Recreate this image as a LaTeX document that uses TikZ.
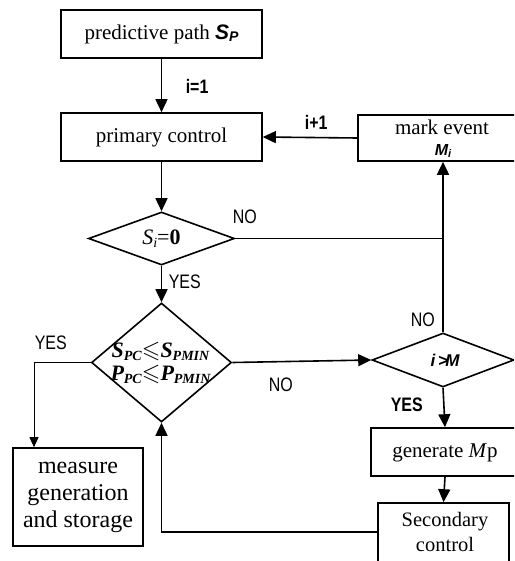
\documentclass[tikz,border=0pt]{standalone}
\usepackage{amsmath}
\usepackage{amssymb}
\usepackage{fontspec}
\setmainfont{Liberation Serif}
\newfontfamily\lblfont[FakeStretch=0.82]{Liberation Sans}
\newfontfamily\bisans{Liberation Sans}
\usetikzlibrary{shapes.geometric,arrows.meta}
\begin{document}
\begin{tikzpicture}[x=1pt,y=-1pt,
  line width=1.6pt,
  arr/.style={-{Triangle[length=13pt,width=12pt]}},
  boxn/.style={draw,rectangle,inner sep=0pt,font=\fontsize{21}{25}\selectfont,align=center},
  dia/.style={draw,diamond,inner sep=0pt},
  lbl/.style={font=\lblfont\fontsize{19.5}{20}\selectfont,inner sep=0pt},
  lblb/.style={font=\lblfont\bfseries\fontsize{19.5}{20}\selectfont,inner sep=0pt}]
\useasboundingbox (0,0) rectangle (514,561);
\clip (0,0) rectangle (514,561);
% boxes
\node[boxn,minimum width=201pt,minimum height=48pt] (p1) at (161.5,34) {predictive path {\bisans\bfseries\itshape S\raisebox{-2pt}{\fontsize{14}{14}\selectfont P}}};
\node[boxn,minimum width=201pt,minimum height=48pt] (p2) at (161.5,137) {primary control};
\node[boxn,minimum width=170pt,minimum height=46pt] (mk) at (443,138) {};
\node[font=\fontsize{21}{25}\selectfont,inner sep=0pt] (mkt) at (442,127) {mark event};
\node[inner sep=0pt,font=\bisans\bfseries\itshape\fontsize{16}{16}\selectfont] (mki) at (443,151) {M\raisebox{-2pt}{\fontsize{11}{11}\selectfont i}};
\node[dia,minimum width=146pt,minimum height=53pt] (d1) at (161.5,238.5) {};
\node[font=\fontsize{22}{24}\selectfont,inner sep=0pt] at (d1) {\textit{S\raisebox{-3pt}{\fontsize{14}{14}\selectfont i}}=\textbf{0}};
\node[dia,minimum width=140pt,minimum height=119pt] (d2) at (161.5,362.5) {};
\node[font=\bfseries\itshape\fontsize{22}{22}\selectfont,inner sep=0pt,align=center] at (160.5,362.5) {%
S\raisebox{-3pt}{\fontsize{14}{14}\selectfont PC}{\fontsize{24}{24}\selectfont$\boldsymbol{\leqslant}$}S\raisebox{-3pt}{\fontsize{14}{14}\selectfont PMIN}\\[1pt]
P\raisebox{-3pt}{\fontsize{14}{14}\selectfont PC}{\fontsize{24}{24}\selectfont$\boldsymbol{\leqslant}$}P\raisebox{-3pt}{\fontsize{14}{14}\selectfont PMIN}};
\node[dia,minimum width=142pt,minimum height=54pt] (d3) at (443,360) {};
\node[inner sep=0pt,font=\bisans\bfseries\itshape\fontsize{17}{17}\selectfont] at (445,360) {i\,{>}\!M};
\node[boxn,minimum width=148pt,minimum height=48pt] (gen) at (445,452) {};
\node[font=\fontsize{21}{25}\selectfont,inner sep=0pt] at (445,453) {generate \textit{M}p};
\node[boxn,minimum width=131pt,minimum height=80pt] (sec) at (443.5,543) {};
\node[font=\fontsize{20.5}{25}\selectfont,inner sep=0pt,align=center] at (445,532) {Secondary\\control};
\node[boxn,minimum width=130pt,minimum height=98pt,font=\fontsize{24}{27}\selectfont] (ms) at (78,497) {measure\\generation\\and storage};
% coordinates
\coordinate (j1) at (443,238.5);
\coordinate (c1) at (34,362.5);
\coordinate (c2) at (161.5,532);
% connectors
\draw[arr] (p1) -- (p2);
\draw[arr] (p2.south) -- (d1.north);
\draw (d1.east) -- (j1);
\draw[arr] (d3.north) -- (mk.south);
\draw[arr] (mk.west) -- (p2.east);
\draw[arr] (d1.south) -- (d2.north);
\draw[arr] (d2.east) -- (d3.west);
\draw[arr] (d3.south) -- (gen.north);
\draw[arr] (gen.south) -- (sec.north);
\draw[arr] (sec.west |- c2) -- (c2) -- (d2.south);
\draw[line width=1pt,-{Triangle[length=10pt,width=9pt]}] (d2.west) -- (c1) -- (c1 |- ms.north);
% labels
\node[lblb,anchor=west] at (185,86) {i=1};
\node[lblb,anchor=west] at (304,122) {i+1};
\node[lbl,anchor=west] at (232,217) {NO};
\node[lbl,anchor=west] at (168,282) {YES};
\node[lbl,anchor=west] at (34,343) {YES};
\node[lbl,anchor=west] at (268,385) {NO};
\node[lbl,anchor=west] at (410,320) {NO};
\node[lblb,anchor=west] at (390,405) {YES};
\end{tikzpicture}
\end{document}
